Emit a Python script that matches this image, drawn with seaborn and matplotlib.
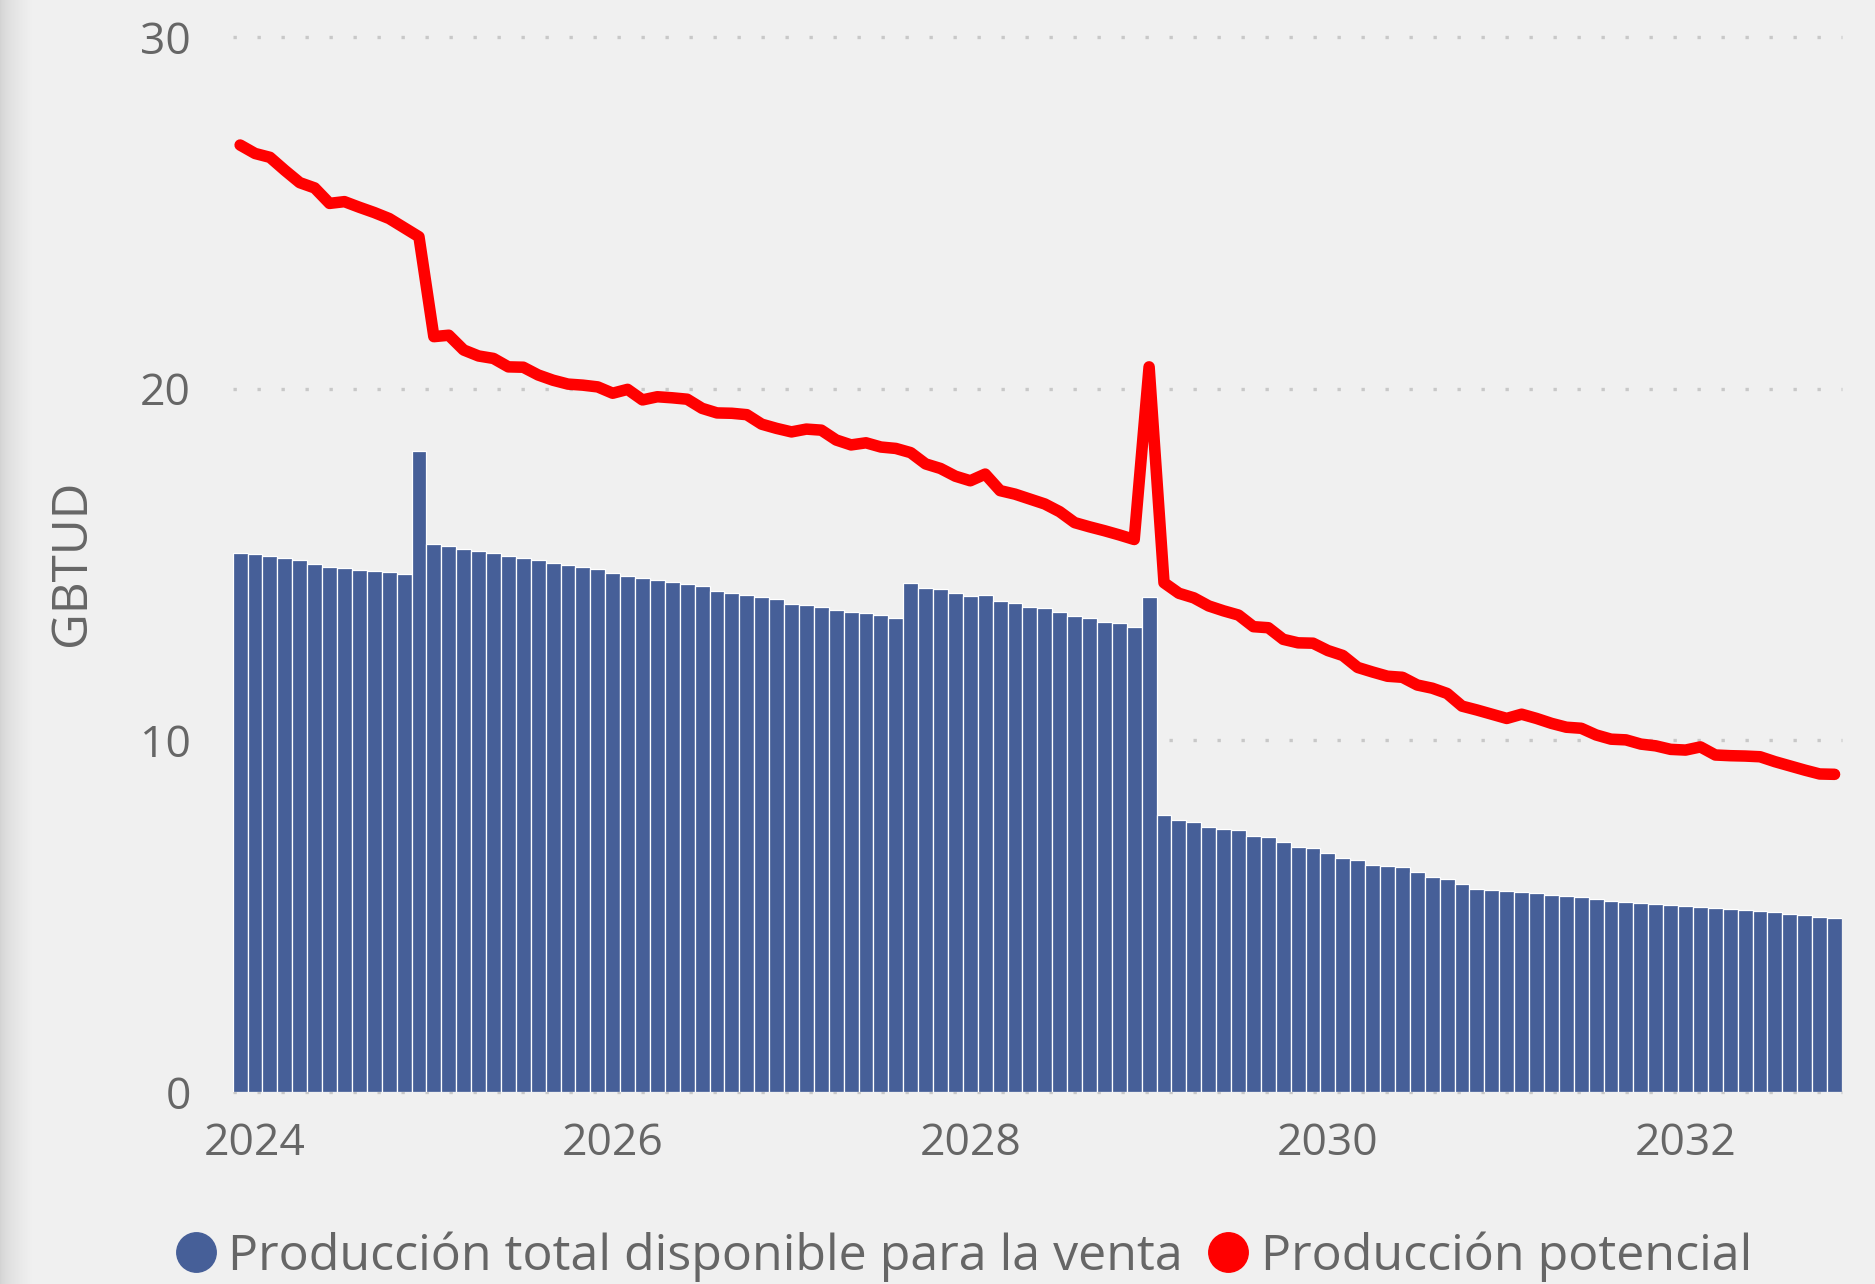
import numpy as np
import pandas as pd
import matplotlib
matplotlib.use("Agg")
import matplotlib.pyplot as plt
from matplotlib.lines import Line2D
import seaborn as sns

# monthly series, Jan 2024 .. Dec 2032
meses = pd.date_range("2024-01-01", periods=108, freq="MS").strftime("%Y-%m")

venta = [
    15.32, 15.30, 15.24, 15.18, 15.12, 15.01, 14.92, 14.89, 14.84, 14.81, 14.78, 14.72,
    18.22, 15.58, 15.52, 15.44, 15.38, 15.32, 15.24, 15.18, 15.12, 15.04, 14.98, 14.92,
    14.86, 14.75, 14.67, 14.61, 14.55, 14.49, 14.43, 14.38, 14.24, 14.18, 14.12, 14.07,
    14.01, 13.87, 13.84, 13.78, 13.70, 13.64, 13.61, 13.55, 13.49, 14.47, 14.33, 14.30,
    14.18, 14.09, 14.12, 13.95, 13.90, 13.78, 13.75, 13.64, 13.53, 13.47, 13.36, 13.33,
    13.21, 14.07, 7.87, 7.73, 7.67, 7.53, 7.47, 7.44, 7.27, 7.24, 7.10, 6.96,
    6.93, 6.79, 6.65, 6.59, 6.45, 6.42, 6.39, 6.25, 6.11, 6.05, 5.91, 5.77,
    5.74, 5.71, 5.68, 5.65, 5.60, 5.57, 5.54, 5.48, 5.43, 5.40, 5.37, 5.34,
    5.31, 5.28, 5.25, 5.23, 5.20, 5.17, 5.14, 5.11, 5.05, 5.03, 4.97, 4.94,
]

potencial = [
    26.93, 26.69, 26.58, 26.21, 25.86, 25.71, 25.27, 25.32, 25.16, 25.01, 24.84, 24.58,
    24.32, 21.48, 21.52, 21.10, 20.93, 20.86, 20.62, 20.61, 20.39, 20.24, 20.13, 20.10,
    20.05, 19.87, 19.98, 19.68, 19.77, 19.74, 19.70, 19.44, 19.31, 19.30, 19.26, 18.99,
    18.87, 18.77, 18.85, 18.82, 18.54, 18.40, 18.46, 18.34, 18.30, 18.18, 17.86, 17.73,
    17.51, 17.38, 17.57, 17.10, 17.00, 16.86, 16.72, 16.50, 16.19, 16.07, 15.96, 15.84,
    15.71, 20.62, 14.48, 14.18, 14.05, 13.82, 13.68, 13.56, 13.23, 13.20, 12.87, 12.77,
    12.76, 12.55, 12.41, 12.07, 11.94, 11.82, 11.79, 11.57, 11.48, 11.33, 10.97, 10.86,
    10.74, 10.62, 10.74, 10.62, 10.48, 10.37, 10.34, 10.15, 10.03, 10.01, 9.89, 9.84,
    9.74, 9.72, 9.81, 9.58, 9.56, 9.55, 9.53, 9.39, 9.27, 9.15, 9.04, 9.03,
]

year_labels = ["2024", "2026", "2028", "2030", "2032"]
serie_venta = "Producción total disponible para la venta"
serie_potencial = "Producción potencial"

azul = "#465F98"
rojo = "#FF0000"
gris = "#666666"
fondo = "#F0F0F0"

df = pd.DataFrame({"mes": meses, "venta": venta, "potencial": potencial})
df["pos"] = np.arange(len(df))

sns.set_style("white")
plt.rcParams["font.family"] = ["Open Sans", "DejaVu Sans"]

fig = plt.figure(figsize=(18.75, 12.84), dpi=100, facecolor=fondo)

# soft shadow on the left edge of the card
shade = fig.add_axes([0, 0, 32 / 1875, 1])
grad = np.linspace(0, 1, 64) ** 0.6
shade.imshow(grad[None, :], aspect="auto", cmap=sns.blend_palette(["#D2D2D2", fondo], as_cmap=True),
             extent=(0, 1, 0, 1))
shade.set_axis_off()

ax = fig.add_axes([0.1241, 0.1497, 0.8583, 0.8214])
ax.set_facecolor(fondo)

sns.barplot(data=df, x="mes", y="venta", color=azul, saturation=1, width=1.0,
            edgecolor="white", linewidth=0.9, errorbar=None, ax=ax)

sns.lineplot(data=df, x="pos", y="potencial", color=rojo, linewidth=8.3,
             solid_capstyle="round", solid_joinstyle="round", legend=False, ax=ax)

ax.set_xlim(-0.5, len(df) - 0.5)
ax.set_ylim(0, 30)
ax.set_yticks([0, 10, 20, 30])
ax.set_xticks([1 + 24 * k for k in range(len(year_labels))], year_labels)

ax.grid(axis="y", color="#C8C8C8", linewidth=2.4, linestyle=(0, (1, 6.2)))
ax.grid(axis="x", visible=False)
ax.set_axisbelow(True)
for gl in ax.get_ygridlines():
    gl.set_dash_capstyle("butt")
    gl.set_clip_on(False)

ax.tick_params(axis="y", length=0, pad=30, labelsize=32, labelcolor=gris)
ax.tick_params(axis="x", length=0, pad=21.5, labelsize=32, labelcolor=gris)
sns.despine(ax=ax, left=True, bottom=True)

ax.set_xlabel("")
ax.set_ylabel("GBTUD", fontsize=35.5, color=gris, va="center")
ax.yaxis.set_label_coords(-0.0998, 0.502)

handles = [
    Line2D([], [], linestyle="none", marker="o", markersize=28.4, color=azul),
    Line2D([], [], linestyle="none", marker="o", markersize=28.4, color=rojo),
]
fig.legend(handles, [serie_venta, serie_potencial], loc="center",
           bbox_to_anchor=(0.514, 0.0215), ncol=2, frameon=False, fontsize=36.1,
           labelcolor=gris, handlelength=0.8, handletextpad=0.25,
           columnspacing=0.5, borderpad=0)

fig.savefig("out.png", dpi=100, facecolor=fondo)
